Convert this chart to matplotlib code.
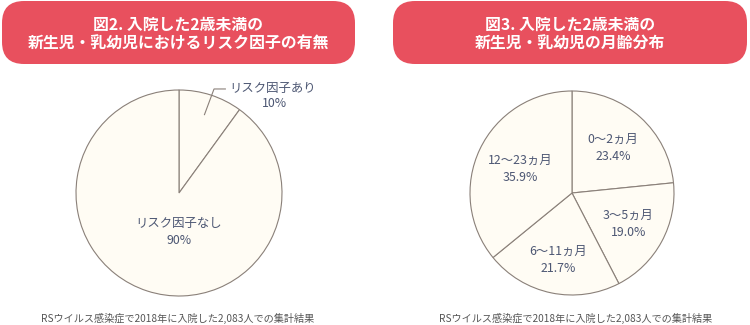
import numpy as np
import matplotlib
matplotlib.use("Agg")
import matplotlib.pyplot as plt
from matplotlib.patches import FancyBboxPatch

plt.rcParams['font.family'] = ['Noto Sans CJK JP', 'DejaVu Sans']

# ---- data ----
title1 = "図2. 入院した2歳未満の\n新生児・乳幼児におけるリスク因子の有無"
title2 = "図3. 入院した2歳未満の\n新生児・乳幼児の月齢分布"
risk_labels = ["リスク因子あり", "リスク因子なし"]
risk_values = [10, 90]
age_labels = ["0〜2ヵ月", "3〜5ヵ月", "6〜11ヵ月", "12〜23ヵ月"]
age_values = [23.4, 19.0, 21.7, 35.9]
footnote = "RSウイルス感染症で2018年に入院した2,083人での集計結果"

W, H = 750, 325
BOX = "#e8505e"
FILL = "#fffcf4"
EDGE = "#8a8079"
TXT = "#4d5773"
NOTE = "#555555"

fig = plt.figure(figsize=(W / 100, H / 100), dpi=100)
fig.patch.set_facecolor("white")

# background axes in pixel coords
bg = fig.add_axes([0, 0, 1, 1])
bg.set_xlim(0, W)
bg.set_ylim(H, 0)
bg.axis("off")

for (x0, x1, ttl) in [(2, 355, title1), (393, 747, title2)]:
    bg.add_patch(FancyBboxPatch((x0, 1), x1 - x0, 63,
                                boxstyle="round,pad=0,rounding_size=22",
                                facecolor=BOX, edgecolor="none"))
    bg.text((x0 + x1) / 2, 34.5, ttl, ha="center", va="center", color="white",
            fontsize=11.4, fontweight="bold", linespacing=1.2)

bg.text(178, 318, footnote, ha="center", va="center", color=NOTE, fontsize=7.3)
bg.text(576, 318, footnote, ha="center", va="center", color=NOTE, fontsize=7.3)


def pie_axes(cx, cy, r):
    ax = fig.add_axes([(cx - r) / W, (H - cy - r) / H, 2 * r / W, 2 * r / H])
    return ax


def finish(ax):
    ax.set_xlim(-1, 1)
    ax.set_ylim(-1, 1)
    ax.set_aspect("equal")
    ax.axis("off")

LFS = 8.9

# ---- left pie ----
ax1 = pie_axes(179, 193, 103)
w1, _ = ax1.pie(risk_values, startangle=90, counterclock=False, radius=1,
                colors=[FILL] * len(risk_values),
                wedgeprops=dict(edgecolor=EDGE, linewidth=0.8))
finish(ax1)
# small slice label with leader line
wd = w1[0]
ang = np.deg2rad((wd.theta1 + wd.theta2) / 2)
p0 = (0.8 * np.cos(ang), 0.8 * np.sin(ang))
ax1.plot([p0[0], 0.34, 0.45], [p0[1], 1.01, 1.01], color=EDGE, lw=0.8, clip_on=False)
ax1.text(0.485, 1.01, risk_labels[0], ha="left", va="center", color=TXT, fontsize=LFS)
ax1.text(0.93, 0.865, f"{risk_values[0]}%", ha="center", va="center", color=TXT, fontsize=LFS)
# large slice label
ax1.text(0, -0.38, f"{risk_labels[1]}\n{risk_values[1]}%", ha="center", va="center",
         color=TXT, fontsize=LFS, linespacing=1.4)

# ---- right pie ----
ax2 = pie_axes(572, 193, 102)
w2, _ = ax2.pie(age_values, startangle=90, counterclock=False, radius=1,
                colors=[FILL] * len(age_values),
                wedgeprops=dict(edgecolor=EDGE, linewidth=0.8))
finish(ax2)
dists = [0.6, 0.63, 0.67, 0.56]
for wd, lab, v, d in zip(w2, age_labels, age_values, dists):
    a = np.deg2rad((wd.theta1 + wd.theta2) / 2)
    ax2.text(d * np.cos(a), d * np.sin(a), f"{lab}\n{v:.1f}%", ha="center", va="center",
             color=TXT, fontsize=LFS, linespacing=1.4)

fig.savefig("out.png", dpi=100, facecolor="white")
